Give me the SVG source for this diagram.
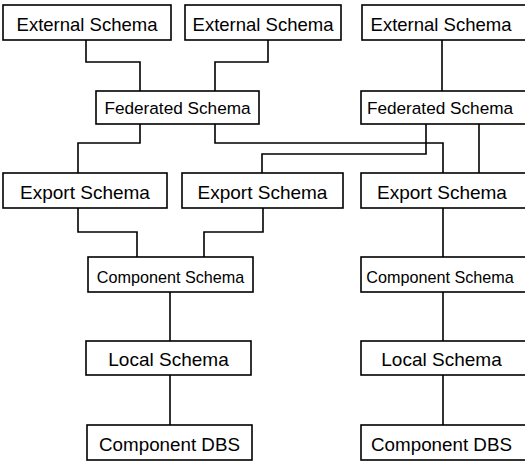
<svg xmlns="http://www.w3.org/2000/svg" width="525" height="461" viewBox="0 0 525 461">
<style>
  rect.box { fill: #fff; stroke: #000; stroke-width: 1.6; }
  text { font-family: "Liberation Sans", Arial, sans-serif; fill: #000; text-anchor: middle; }
  .ext { font-size: 18.5px; }
  .fed { font-size: 17.2px; }
  .exp { font-size: 19px; }
  .cmp { font-size: 16.2px; }
  .loc { font-size: 19px; }
  .dbs { font-size: 18.8px; }
  #connectors path { fill: none; stroke: #000; stroke-width: 1.6; }
</style>
<rect width="525" height="461" fill="#fff"/>
<g id="connectors">
  <path d="M86,40 V62 H140 V91"/>
  <path d="M268,40 V62 H215 V91"/>
  <path d="M442,40 V91"/>
  <path d="M140,124 V143 H78 V173"/>
  <path d="M215,124 V143 H443 V173"/>
  <path d="M426,124 V154 H262 V173"/>
  <path d="M479,124 V173"/>
  <path d="M78,208 V232 H137 V257"/>
  <path d="M263,208 V232 H204 V257"/>
  <path d="M443,208 V257"/>
  <path d="M170,292 V341"/>
  <path d="M170,375 V425"/>
  <path d="M443,292 V341"/>
  <path d="M443,375 V425"/>
</g>
<g id="ext1"><rect class="box" x="3" y="5" width="168" height="35"/><text class="ext" x="87" y="31">External Schema</text></g>
<g id="ext2"><rect class="box" x="185" y="5" width="156" height="35"/><text class="ext" x="263" y="31">External Schema</text></g>
<g id="ext3"><rect class="box" x="362" y="5" width="170" height="35"/><text class="ext" x="441" y="31">External Schema</text></g>
<g id="fed1"><rect class="box" x="96" y="91" width="163" height="33"/><text class="fed" x="177.5" y="113.5">Federated Schema</text></g>
<g id="fed2"><rect class="box" x="361" y="91" width="170" height="33"/><text class="fed" x="440" y="113.5">Federated Schema</text></g>
<g id="exp1"><rect class="box" x="3" y="173" width="164" height="35"/><text class="exp" x="85" y="199">Export Schema</text></g>
<g id="exp2"><rect class="box" x="182" y="173" width="161" height="35"/><text class="exp" x="262.5" y="199">Export Schema</text></g>
<g id="exp3"><rect class="box" x="361" y="173" width="170" height="35"/><text class="exp" x="442" y="199">Export Schema</text></g>
<g id="cmp1"><rect class="box" x="88" y="257" width="165" height="35"/><text class="cmp" x="170.5" y="283">Component Schema</text></g>
<g id="cmp2"><rect class="box" x="361" y="257" width="170" height="35"/><text class="cmp" x="440" y="283">Component Schema</text></g>
<g id="loc1"><rect class="box" x="86" y="341" width="165" height="34"/><text class="loc" x="168.5" y="366">Local Schema</text></g>
<g id="loc2"><rect class="box" x="361" y="341" width="170" height="34"/><text class="loc" x="441.5" y="366">Local Schema</text></g>
<g id="dbs1"><rect class="box" x="87" y="425" width="165" height="35"/><text class="dbs" x="169.5" y="451">Component DBS</text></g>
<g id="dbs2"><rect class="box" x="361" y="425" width="170" height="35"/><text class="dbs" x="441.5" y="451">Component DBS</text></g>
</svg>
